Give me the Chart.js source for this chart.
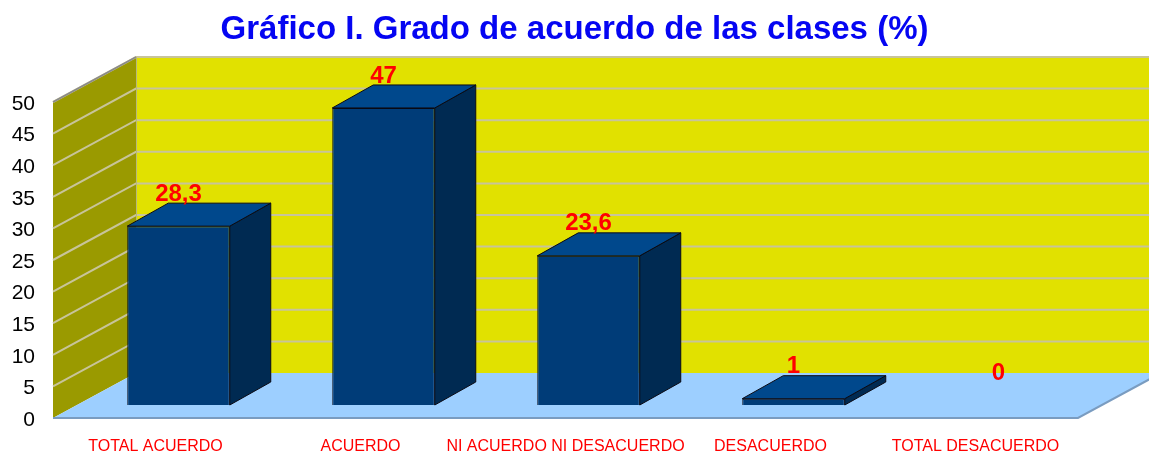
<!DOCTYPE html>
<html>
<head>
<meta charset="utf-8">
<script src="https://cdn.jsdelivr.net/npm/chart.js@4/dist/chart.umd.min.js"></script>
<style>
  html, body { margin: 0; padding: 0; background: #ffffff; }
  #wrap { width: 1149px; height: 453px; }
</style>
</head>
<body>
<div id="wrap"><canvas id="c" width="1149" height="453"></canvas></div>
<script>
// ---- data ----
const categories = ["TOTAL ACUERDO", "ACUERDO", "NI ACUERDO NI DESACUERDO", "DESACUERDO", "TOTAL DESACUERDO"];
const values = [28.3, 47, 23.6, 1, 0];
const valueLabels = ["28,3", "47", "23,6", "1", "0"];
const yMin = 0, yMax = 50, yStep = 5;
const titleText = "Gráfico I. Grado de acuerdo de las clases (%)";

// ---- 3D look parameters ----
const DEPTH_X = 83, DEPTH_Y = -45;     // full floor depth
const FRONT_X = 23, FRONT_Y = -13;     // bar front-face offset
const BAR_DX = 41, BAR_DY = -23;       // bar depth

const threeD = {
  id: 'threeD',
  beforeDraw(chart) {
    const ctx = chart.ctx, a = chart.chartArea, ys = chart.scales.y;
    const L = a.left, R = a.right, T = a.top, B = a.bottom;
    ctx.save();
    // back wall
    ctx.fillStyle = '#E1E100';
    ctx.fillRect(L + DEPTH_X, T + DEPTH_Y, (R - L) + 10, (B - T));
    // left wall
    ctx.fillStyle = '#9A9A00';
    ctx.beginPath();
    ctx.moveTo(L, T); ctx.lineTo(L + DEPTH_X, T + DEPTH_Y);
    ctx.lineTo(L + DEPTH_X, B + DEPTH_Y); ctx.lineTo(L, B); ctx.closePath();
    ctx.fill();
    // grid lines
    ctx.strokeStyle = '#C8C49A';
    ctx.lineWidth = 2;
    for (let v = yMin + yStep; v <= yMax; v += yStep) {
      const y = ys.getPixelForValue(v);
      ctx.beginPath();
      ctx.moveTo(L, y); ctx.lineTo(L + DEPTH_X, y + DEPTH_Y);
      ctx.lineTo(R + DEPTH_X + 10, y + DEPTH_Y);
      ctx.stroke();
    }
    // left wall top edge shade
    ctx.strokeStyle = '#8a8a8a';
    ctx.lineWidth = 1.5;
    ctx.beginPath(); ctx.moveTo(L, T); ctx.lineTo(L + DEPTH_X, T + DEPTH_Y); ctx.stroke();
    // wall separation line
    ctx.strokeStyle = '#B8B87A';
    ctx.lineWidth = 1;
    ctx.beginPath(); ctx.moveTo(L + DEPTH_X + 0.5, T + DEPTH_Y); ctx.lineTo(L + DEPTH_X + 0.5, B + DEPTH_Y); ctx.stroke();
    // floor
    ctx.fillStyle = '#9DCFFF';
    ctx.beginPath();
    ctx.moveTo(L, B); ctx.lineTo(L + DEPTH_X, B + DEPTH_Y);
    ctx.lineTo(R + DEPTH_X, B + DEPTH_Y); ctx.lineTo(R, B); ctx.closePath();
    ctx.fill();
    // floor edges
    ctx.strokeStyle = '#7A9CC0';
    ctx.lineWidth = 2;
    ctx.beginPath(); ctx.moveTo(L, B); ctx.lineTo(R, B); ctx.lineTo(R + DEPTH_X, B + DEPTH_Y); ctx.stroke();
    ctx.restore();
  },
  beforeDatasetsDraw(chart) {
    chart.ctx.save();
    chart.ctx.translate(FRONT_X, FRONT_Y);
  },
  afterDatasetsDraw(chart) {
    const ctx = chart.ctx;
    const meta = chart.getDatasetMeta(0);
    ctx.lineWidth = 1;
    ctx.strokeStyle = '#0a0a14';
    ctx.lineJoin = 'round';
    meta.data.forEach((bar, i) => {
      if (!values[i]) return;
      const p = bar.getProps(['x', 'y', 'base', 'width'], true);
      const l = p.x - p.width / 2, r = p.x + p.width / 2, t = p.y, b = p.base;
      // side face
      ctx.fillStyle = '#002A52';
      ctx.beginPath();
      ctx.moveTo(r, t); ctx.lineTo(r + BAR_DX, t + BAR_DY);
      ctx.lineTo(r + BAR_DX, b + BAR_DY); ctx.lineTo(r, b); ctx.closePath();
      ctx.fill(); ctx.stroke();
      // top face
      ctx.fillStyle = '#00488C';
      ctx.beginPath();
      ctx.moveTo(l, t); ctx.lineTo(l + BAR_DX, t + BAR_DY);
      ctx.lineTo(r + BAR_DX, t + BAR_DY); ctx.lineTo(r, t); ctx.closePath();
      ctx.fill(); ctx.stroke();
    });
    ctx.restore();
    // value labels
    ctx.save();
    ctx.fillStyle = '#FF0000';
    ctx.font = 'bold 24px "Liberation Sans", Arial, sans-serif';
    ctx.textAlign = 'center';
    ctx.textBaseline = 'middle';
    meta.data.forEach((bar, i) => {
      const p = bar.getProps(['x', 'y'], true);
      ctx.fillText(valueLabels[i], p.x + FRONT_X, p.y + FRONT_Y - 32);
    });
    ctx.restore();
  }
};

new Chart(document.getElementById('c'), {
  type: 'bar',
  data: {
    labels: categories,
    datasets: [{
      data: values,
      backgroundColor: '#003C78',
      borderColor: '#0a0a14',
      borderWidth: 1,
      barPercentage: 0.5,
      categoryPercentage: 1.0
    }]
  },
  options: {
    responsive: false,
    animation: false,
    layout: { padding: { left: 0, right: 0, top: 0, bottom: 0 } },
    plugins: {
      legend: { display: false },
      tooltip: { enabled: false },
      title: {
        display: true,
        text: titleText,
        color: '#0505F2',
        font: { family: '"Liberation Sans", Arial, sans-serif', size: 33, weight: 'bold' },
        lineHeight: 1.2,
        padding: { top: 10, bottom: 52.4 }
      }
    },
    scales: {
      y: {
        min: yMin, max: yMax,
        grid: { display: false, drawTicks: false },
        border: { display: false },
        ticks: {
          stepSize: yStep,
          color: '#000000',
          padding: 18,
          labelOffset: 2,
          font: { family: '"Liberation Sans", Arial, sans-serif', size: 21 }
        },
        afterFit(scale) { scale.width = 53; }
      },
      yRight: {
        position: 'right',
        display: true,
        min: yMin, max: yMax,
        grid: { display: false, drawTicks: false },
        border: { display: false },
        ticks: { display: false },
        afterFit(scale) { scale.width = 71; }
      },
      x: {
        grid: { display: false, drawTicks: false },
        border: { display: false },
        ticks: {
          color: '#FF0000',
          padding: 19,
          maxRotation: 0,
          autoSkip: false,
          font: { family: '"Liberation Sans", Arial, sans-serif', size: 16 }
        },
        afterFit(scale) { scale.height = 35; }
      }
    }
  },
  plugins: [threeD]
});
</script>
</body>
</html>
